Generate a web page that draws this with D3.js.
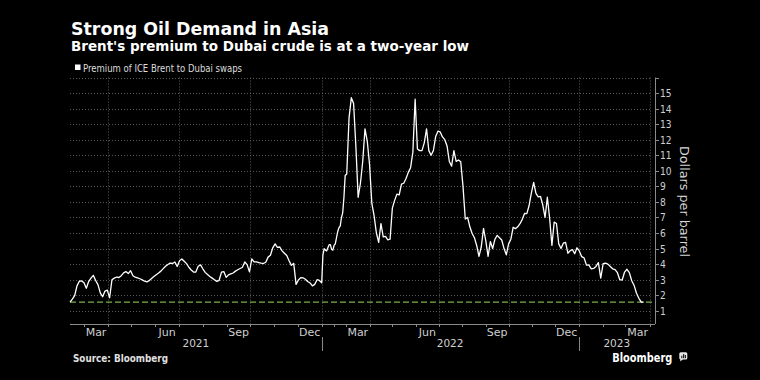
<!DOCTYPE html>
<html>
<head>
<meta charset="utf-8">
<script src="https://cdn.jsdelivr.net/npm/d3@7"></script>
<style>
  html, body { margin: 0; padding: 0; background: #000; }
  svg { display: block; }
</style>
</head>
<body>
<svg id="chart" width="760" height="380"></svg>
<script>
// ---------------- DATA ----------------
const dates = [
  "2021-02-11","2021-02-14","2021-02-17","2021-02-20","2021-02-23","2021-02-26",
  "2021-03-01","2021-03-04","2021-03-07","2021-03-10","2021-03-13","2021-03-16","2021-03-19","2021-03-22","2021-03-25","2021-03-28","2021-03-31",
  "2021-04-03","2021-04-06","2021-04-09","2021-04-12","2021-04-15","2021-04-18","2021-04-21","2021-04-24","2021-04-27","2021-04-30",
  "2021-05-03","2021-05-06","2021-05-09","2021-05-12","2021-05-15","2021-05-18","2021-05-21","2021-05-24","2021-05-27","2021-05-30",
  "2021-06-02","2021-06-05","2021-06-08","2021-06-11","2021-06-14","2021-06-17","2021-06-20","2021-06-23","2021-06-26","2021-06-29",
  "2021-07-02","2021-07-05","2021-07-08","2021-07-11","2021-07-14","2021-07-17","2021-07-20","2021-07-23","2021-07-26","2021-07-29",
  "2021-08-01","2021-08-04","2021-08-07","2021-08-10","2021-08-13","2021-08-16","2021-08-19","2021-08-22","2021-08-25","2021-08-28","2021-08-31",
  "2021-09-03","2021-09-06","2021-09-09","2021-09-12","2021-09-15","2021-09-18","2021-09-21","2021-09-24","2021-09-27","2021-09-30",
  "2021-10-03","2021-10-06","2021-10-09","2021-10-12","2021-10-15","2021-10-18","2021-10-21","2021-10-24","2021-10-27","2021-10-30",
  "2021-11-02","2021-11-05","2021-11-08","2021-11-11","2021-11-14","2021-11-17","2021-11-20","2021-11-23","2021-11-26","2021-11-29",
  "2021-12-02","2021-12-05","2021-12-08","2021-12-11","2021-12-14","2021-12-17","2021-12-20","2021-12-23","2021-12-26","2021-12-29",
  "2022-01-01","2022-01-04","2022-01-07","2022-01-10","2022-01-13","2022-01-16","2022-01-19","2022-01-22","2022-01-25","2022-01-28","2022-01-31",
  "2022-02-03","2022-02-06","2022-02-09","2022-02-12","2022-02-15","2022-02-18","2022-02-21","2022-02-24","2022-02-27",
  "2022-03-02","2022-03-05","2022-03-08","2022-03-11","2022-03-14","2022-03-17","2022-03-20","2022-03-23","2022-03-26","2022-03-29",
  "2022-04-01","2022-04-04","2022-04-07","2022-04-10","2022-04-13","2022-04-16","2022-04-19","2022-04-22","2022-04-25","2022-04-28",
  "2022-05-01","2022-05-04","2022-05-07","2022-05-10","2022-05-13","2022-05-16","2022-05-19","2022-05-22","2022-05-25","2022-05-28","2022-05-31",
  "2022-06-03","2022-06-06","2022-06-09","2022-06-12","2022-06-15","2022-06-18","2022-06-21","2022-06-24","2022-06-27","2022-06-30",
  "2022-07-03","2022-07-06","2022-07-09","2022-07-12","2022-07-15","2022-07-18","2022-07-21","2022-07-24","2022-07-27","2022-07-30",
  "2022-08-02","2022-08-05","2022-08-08","2022-08-11","2022-08-14","2022-08-17","2022-08-20","2022-08-23","2022-08-26","2022-08-29",
  "2022-09-01","2022-09-04","2022-09-07","2022-09-10","2022-09-13","2022-09-16","2022-09-19","2022-09-22","2022-09-25","2022-09-28",
  "2022-10-01","2022-10-04","2022-10-07","2022-10-10","2022-10-13","2022-10-16","2022-10-19","2022-10-22","2022-10-25","2022-10-28","2022-10-31",
  "2022-11-03","2022-11-06","2022-11-09","2022-11-12","2022-11-15","2022-11-18","2022-11-21","2022-11-24","2022-11-27","2022-11-30",
  "2022-12-03","2022-12-06","2022-12-09","2022-12-12","2022-12-15","2022-12-18","2022-12-21","2022-12-24","2022-12-27","2022-12-30",
  "2023-01-02","2023-01-05","2023-01-08","2023-01-11","2023-01-14","2023-01-17","2023-01-20","2023-01-23","2023-01-26","2023-01-29",
  "2023-02-01","2023-02-04","2023-02-07","2023-02-10","2023-02-13","2023-02-16","2023-02-19","2023-02-22","2023-02-25","2023-02-28",
  "2023-03-03","2023-03-06","2023-03-09","2023-03-12","2023-03-15","2023-03-18","2023-03-21","2023-03-24"
];

// Premium of ICE Brent to Dubai swaps, $/bbl
const premium = [
  1.55,1.75,1.97,2.6,2.9,2.92,2.8,2.45,2.88,3.1,
  3.28,2.95,2.68,2.15,1.9,2.27,2.33,1.84,3.0,3.1,
  3.17,3.14,3.26,3.44,3.52,3.39,3.58,3.25,3.16,3.11,
  3.06,2.99,2.9,2.86,2.94,3.07,3.2,3.32,3.43,3.55,
  3.71,3.86,3.98,4.07,4.04,4.14,3.85,4.22,4.33,4.18,
  4.03,3.8,3.62,3.49,3.49,3.86,3.95,3.7,3.47,3.33,
  3.21,3.1,2.99,2.89,2.96,3.49,3.52,3.15,3.31,3.37,
  3.43,3.55,3.64,3.72,3.8,4.14,3.97,3.5,4.33,4.14,
  4.14,4.09,4.06,4.04,4.12,4.45,4.57,5.05,5.3,5.08,
  5.1,4.85,4.7,4.55,4.22,3.92,4.05,2.7,2.98,3.13,
  3.12,3.03,2.88,2.79,2.6,2.7,3.0,2.95,
  2.8,4.6,5.0,4.9,4.85,5.05,5.25,5.25,4.95,4.9,
  5.2,5.3,5.7,6.1,6.35,6.45,7.0,7.3,8.3,9.7,
  9.8,13.4,14.7,14.33,11.56,8.3,9.2,10.6,12.7,11.9,
  10.4,7.9,7.1,6.0,5.4,6.6,5.75,5.78,5.56,5.6,
  7.6,8.1,8.5,8.45,9.15,9.2,9.5,9.9,10.2,11.2,
  14.6,11.4,11.3,11.3,11.8,12.7,11.3,11.0,11.3,12.2,
  12.55,12.5,12.18,12.0,11.6,10.6,10.3,11.3,10.6,10.7,
  10.58,9.0,6.9,7.0,6.4,5.97,5.7,5.2,4.5,5.1,
  6.3,5.5,4.5,5.45,5.0,5.6,5.85,5.7,5.55,5.0,
  4.6,5.3,5.6,6.37,6.28,6.4,6.6,6.88,7.26,7.25,
  7.77,8.58,9.25,8.55,8.33,8.35,7.8,7.0,8.3,6.95,
  5.2,6.7,6.61,5.3,5.0,5.35,5.4,4.7,4.86,4.93,
  4.67,5.05,4.85,4.48,4.4,3.94,3.95,3.7,3.72,3.85,
  4.1,3.1,4.03,4.06,4.0,3.85,3.7,3.65,3.45,3.0,
  2.98,3.49,3.67,3.45,2.93,2.63,2.13,1.8,1.56,1.56
];

const referenceLevel = 1.56;           // latest value, dashed green line
const yTicks = [1,2,3,4,5,6,7,8,9,10,11,12,13,14,15];
const yGrid = [1,2,3,4,5,6,7,8,9,10,11,12,13,14,15,16];
const monthLabels = ["Mar","Jun","Sep","Dec"];
const yearLabels = ["2021","2022","2023"];
// calendar breakpoints of the (non-uniform) Bloomberg time axis
const xBreaks = ["2021-02-11","2022-01-01","2022-03-01","2023-01-01","2023-04-01"];

const titleText = "Strong Oil Demand in Asia";
const subtitleText = "Brent's premium to Dubai crude is at a two-year low";
const legendText = "Premium of ICE Brent to Dubai swaps";
const yAxisTitle = "Dollars per barrel";
const sourceText = "Source: Bloomberg";

// ---------------- CHART ----------------
if (dates.length !== premium.length) throw new Error("length mismatch " + dates.length + " vs " + premium.length);

const parse = d3.timeParse("%Y-%m-%d");
const series = dates.map((d, i) => ({ date: parse(d), v: premium[i] }));

const svg = d3.select("#chart");
svg.append("rect").attr("width", 760).attr("height", 380).attr("fill", "#000");

const L = 70, R = 650, AX = 655, T = 77.5, B = 324;
const x = d3.scaleTime().domain(xBreaks.map(parse)).range([L, 321.7, 346, 578.5, R]);
const y = d3.scaleLinear().domain([0.15, 16]).range([B, T]);

const FONT = "'DejaVu Sans', Verdana, sans-serif";
const grid = svg.append("g");

// horizontal gridlines
grid.selectAll("line.h").data(yGrid).join("line")
  .attr("x1", L).attr("x2", R)
  .attr("y1", d => Math.round(y(d)) + 0.5).attr("y2", d => Math.round(y(d)) + 0.5)
  .attr("stroke", "#5a5a5a").attr("stroke-width", 1).attr("stroke-dasharray", "1,2");

// vertical quarterly gridlines
const quarters = d3.timeMonth.every(3).range(parse("2021-04-01"), parse("2023-04-02"));
grid.selectAll("line.v").data(quarters).join("line")
  .attr("x1", d => Math.round(x(d)) + 0.5).attr("x2", d => Math.round(x(d)) + 0.5)
  .attr("y1", T).attr("y2", B)
  .attr("stroke", "#5a5a5a").attr("stroke-width", 1).attr("stroke-dasharray", "1,2");

// bottom axis
svg.append("line").attr("x1", L).attr("x2", AX).attr("y1", B + 0.5).attr("y2", B + 0.5)
  .attr("stroke", "#8a8a8a").attr("stroke-width", 1);
const months = d3.timeMonth.range(parse("2021-03-01"), parse("2023-04-02"));
svg.append("g").selectAll("line").data(months).join("line")
  .attr("x1", d => Math.round(x(d)) + 0.5).attr("x2", d => Math.round(x(d)) + 0.5)
  .attr("y1", B).attr("y2", B + 3)
  .attr("stroke", "#8a8a8a").attr("stroke-width", 1);

const fmtMonth = d3.timeFormat("%b");
const xEnd = x.domain()[x.domain().length - 1];
const labelled = d3.timeMonth.range(parse("2021-02-01"), xEnd).filter(d => monthLabels.includes(fmtMonth(d)));
svg.append("g").selectAll("text").data(labelled).join("text")
  .attr("x", d => {
    const a = Math.max(L, x(d));
    const b = Math.min(R, x(d3.timeMonth.offset(d, 1)));
    return (a + b) / 2;
  })
  .attr("y", 335.5)
  .attr("text-anchor", "middle")
  .attr("font-family", FONT).attr("font-size", 11).attr("fill", "#cfcfcf")
  .text(d => fmtMonth(d));

// year separators & labels
const yearStarts = yearLabels.map(s => parse(s + "-01-01"));
svg.append("g").selectAll("line").data(yearStarts.slice(1)).join("line")
  .attr("x1", d => Math.round(x(d)) + 0.5).attr("x2", d => Math.round(x(d)) + 0.5)
  .attr("y1", 337).attr("y2", 351)
  .attr("stroke", "#8a8a8a").attr("stroke-width", 1);
svg.append("g").selectAll("text").data(yearLabels).join("text")
  .attr("x", (d, i) => {
    const a = Math.max(L, x(yearStarts[i]));
    const b = i + 1 < yearStarts.length ? x(yearStarts[i + 1]) : AX;
    return (a + b) / 2;
  })
  .attr("y", 347.3)
  .attr("text-anchor", "middle")
  .attr("font-family", FONT).attr("font-size", 10.5).attr("fill", "#cfcfcf")
  .text(d => d);

// right axis
svg.append("line").attr("x1", AX + 0.5).attr("x2", AX + 0.5).attr("y1", T).attr("y2", B)
  .attr("stroke", "#8a8a8a").attr("stroke-width", 1);
svg.append("g").selectAll("line").data(yGrid).join("line")
  .attr("x1", AX).attr("x2", AX + 4)
  .attr("y1", d => Math.round(y(d)) + 0.5).attr("y2", d => Math.round(y(d)) + 0.5)
  .attr("stroke", "#8a8a8a").attr("stroke-width", 1);
svg.append("g").selectAll("text").data(yTicks).join("text")
  .attr("x", AX + 5).attr("y", d => y(d) + 4)
  .attr("font-family", FONT).attr("font-size", 11).attr("fill", "#cfcfcf")
  .attr("textLength", d => String(d).length * 5.8).attr("lengthAdjust", "spacingAndGlyphs")
  .text(d => d);
svg.append("text")
  .attr("transform", "translate(680,201.5) rotate(90)")
  .attr("text-anchor", "middle")
  .attr("font-family", FONT).attr("font-size", 13).attr("fill", "#d5d5d5")
  .attr("textLength", 111).attr("lengthAdjust", "spacingAndGlyphs")
  .text(yAxisTitle);

// reference dashed line
svg.append("line").attr("x1", L).attr("x2", AX)
  .attr("y1", y(referenceLevel)).attr("y2", y(referenceLevel))
  .attr("stroke", "#79b04a").attr("stroke-width", 1.3).attr("stroke-dasharray", "6,3");

// series line
svg.append("path").datum(series)
  .attr("d", d3.line().x(d => x(d.date)).y(d => y(d.v)))
  .attr("fill", "none").attr("stroke", "#ffffff").attr("stroke-width", 1.3)
  .attr("stroke-linejoin", "round");

// titles
svg.append("text").attr("x", 71).attr("y", 34.5)
  .attr("font-family", FONT).attr("font-weight", "bold").attr("font-size", 18).attr("fill", "#fff")
  .attr("textLength", 258).attr("lengthAdjust", "spacingAndGlyphs")
  .text(titleText);
svg.append("text").attr("x", 71).attr("y", 51)
  .attr("font-family", FONT).attr("font-weight", "bold").attr("font-size", 13.5).attr("fill", "#fff")
  .attr("textLength", 398).attr("lengthAdjust", "spacingAndGlyphs")
  .text(subtitleText);

// legend
svg.append("rect").attr("x", 75).attr("y", 64.5).attr("width", 5.5).attr("height", 5.5).attr("fill", "#fff");
svg.append("text").attr("x", 83).attr("y", 71.5)
  .attr("font-family", FONT).attr("font-size", 10).attr("fill", "#dcdcdc")
  .attr("textLength", 159).attr("lengthAdjust", "spacingAndGlyphs")
  .text(legendText);

// footer
svg.append("text").attr("x", 73).attr("y", 361.5)
  .attr("font-family", FONT).attr("font-weight", "bold").attr("font-size", 10).attr("fill", "#e0e0e0")
  .attr("textLength", 95).attr("lengthAdjust", "spacingAndGlyphs")
  .text(sourceText);
svg.append("text").attr("x", 612.3).attr("y", 361.5)
  .attr("font-family", FONT).attr("font-weight", "bold").attr("font-size", 12).attr("fill", "#fff")
  .attr("textLength", 60).attr("lengthAdjust", "spacingAndGlyphs")
  .text("Bloomberg");
const icon = svg.append("g");
icon.append("rect").attr("x", 679.3).attr("y", 352.3).attr("width", 8).attr("height", 7.3).attr("rx", 1.5).attr("fill", "#e8e8e8");
icon.append("path").attr("d", "M680.3,358.5 L680.3,361.5 L683,359.3 Z").attr("fill", "#e8e8e8");
[[681.2, 2.5], [683, 4.2], [684.8, 3.2]].forEach(([bx, bh]) => {
  icon.append("rect").attr("x", bx).attr("y", 358.2 - bh).attr("width", 1.2).attr("height", bh).attr("fill", "#222");
});
</script>
</body>
</html>
